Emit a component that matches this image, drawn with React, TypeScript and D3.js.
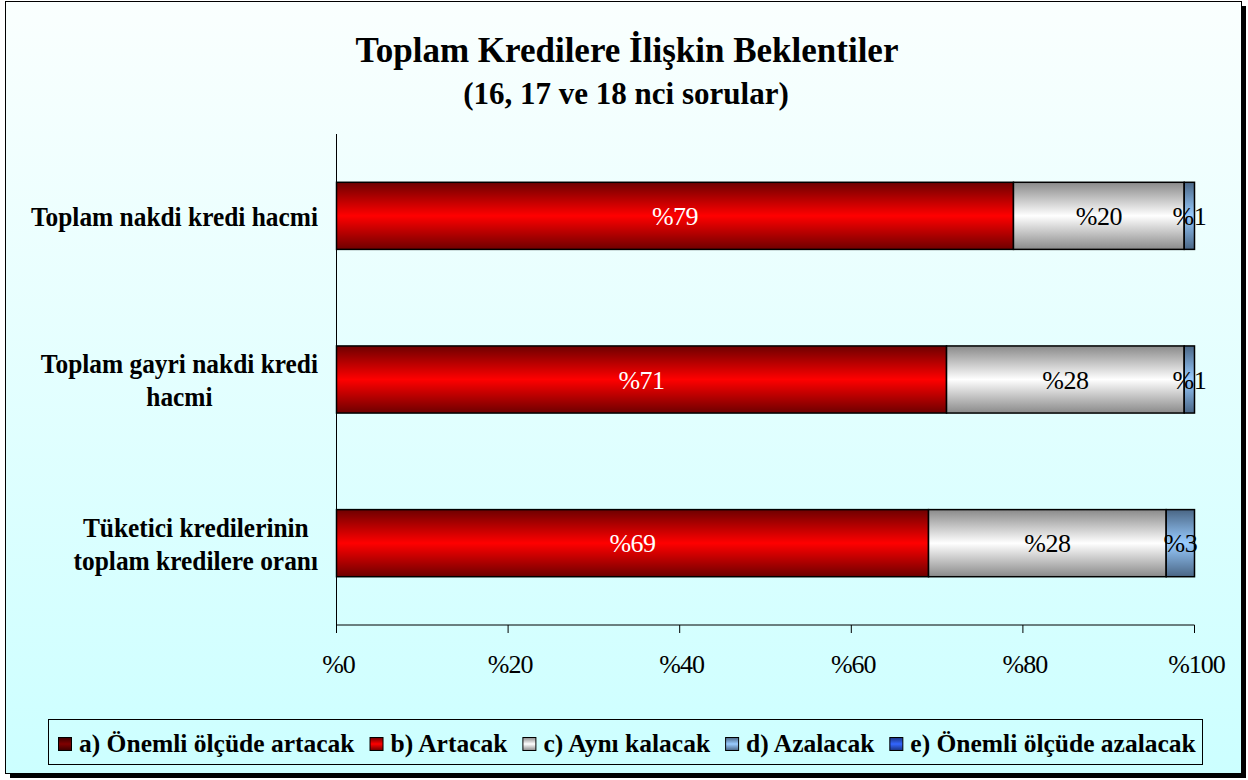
import React, { useEffect, useRef } from "react";
import * as d3 from "d3";

const titleLines = ["Toplam Kredilere İlişkin Beklentiler", "(16, 17 ve 18 nci sorular)"];
const categories = [
  "Toplam nakdi kredi hacmi",
  "Toplam gayri nakdi kredi hacmi",
  "Tüketici kredilerinin toplam kredilere oranı",
];
const categoryLines = [
  ["Toplam nakdi kredi hacmi"],
  ["Toplam gayri nakdi kredi", "hacmi"],
  ["Tüketici kredilerinin", "toplam kredilere oranı"],
];
const seriesNames = [
  "a) Önemli ölçüde artacak",
  "b) Artacak",
  "c) Aynı kalacak",
  "d) Azalacak",
  "e) Önemli ölçüde azalacak",
];
const seriesKeys = ["a", "b", "c", "d", "e"];
const valuesA = [0, 0, 0];
const valuesB = [78.9, 71.1, 69.0];
const valuesC = [19.9, 27.7, 27.7];
const valuesD = [1.2, 1.2, 3.3];
const valuesE = [0, 0, 0];
const xTickValues = [0, 20, 40, 60, 80, 100];

const W = 1248;
const H = 780;
const FONT = "'Liberation Serif', 'Times New Roman', serif";

// gradient colours: [edge, middle]
const seriesColors: [string, string][] = [
  ["#3d0000", "#800000"],
  ["#6e0000", "#ff0000"],
  ["#8a8a8a", "#ffffff"],
  ["#4a6685", "#99ccff"],
  ["#1a3380", "#3366ff"],
];
const labelColors = ["#ffffff", "#ffffff", "#000000", "#000000", "#ffffff"];

export default function App() {
  const ref = useRef<SVGSVGElement>(null);

  useEffect(() => {
    const svg = d3.select(ref.current as SVGSVGElement);
    svg.selectAll("*").remove();
    const defs = svg.append("defs");

    const bg = defs
      .append("linearGradient")
      .attr("id", "bg")
      .attr("x1", 0)
      .attr("y1", 0)
      .attr("x2", 0)
      .attr("y2", 1);
    bg.append("stop").attr("offset", "0%").attr("stop-color", "#fafffe");
    bg.append("stop").attr("offset", "100%").attr("stop-color", "#ccffff");

    seriesColors.forEach(([edge, mid], i) => {
      const g = defs
        .append("linearGradient")
        .attr("id", "sg" + i)
        .attr("x1", 0)
        .attr("y1", 0)
        .attr("x2", 0)
        .attr("y2", 1);
      g.append("stop").attr("offset", "0%").attr("stop-color", edge);
      g.append("stop").attr("offset", "50%").attr("stop-color", mid);
      g.append("stop").attr("offset", "100%").attr("stop-color", edge);
    });

    // frame + shadow
    svg.append("rect").attr("x", 10).attr("y", 6).attr("width", 1236).attr("height", 772).attr("fill", "#000");
    svg
      .append("rect")
      .attr("x", 5.5)
      .attr("y", 1.5)
      .attr("width", 1236)
      .attr("height", 772)
      .attr("fill", "url(#bg)")
      .attr("stroke", "#000")
      .attr("stroke-width", 1);

    // title
    svg
      .append("text")
      .attr("x", 627)
      .attr("y", 62)
      .attr("text-anchor", "middle")
      .attr("font-family", FONT)
      .attr("font-weight", "bold")
      .attr("font-size", 35)
      .text(titleLines[0]);
    svg
      .append("text")
      .attr("x", 626)
      .attr("y", 104)
      .attr("text-anchor", "middle")
      .attr("font-family", FONT)
      .attr("font-weight", "bold")
      .attr("font-size", 31)
      .text(titleLines[1]);

    // scales
    const x = d3.scaleLinear().domain([0, 100]).range([336.5, 1194.5]);
    const y = d3.scaleBand<string>().domain(categories).range([134, 625]).paddingInner(0.59).paddingOuter(0.295);

    const rows = categories.map((c, i) => ({
      cat: c,
      a: valuesA[i],
      b: valuesB[i],
      c: valuesC[i],
      d: valuesD[i],
      e: valuesE[i],
    }));
    const stacked = d3.stack<any>().keys(seriesKeys)(rows);

    // bars
    stacked.forEach((layer, si) => {
      layer.forEach((seg, ci) => {
        const v = seg[1] - seg[0];
        if (v <= 0) return;
        svg
          .append("rect")
          .attr("x", x(seg[0]))
          .attr("y", y(categories[ci]) as number)
          .attr("width", x(seg[1]) - x(seg[0]))
          .attr("height", y.bandwidth())
          .attr("fill", `url(#sg${si})`)
          .attr("stroke", "#000")
          .attr("stroke-width", 1.5);
      });
    });

    // bar labels
    stacked.forEach((layer, si) => {
      layer.forEach((seg, ci) => {
        const v = seg[1] - seg[0];
        if (v <= 0) return;
        const yc = (y(categories[ci]) as number) + y.bandwidth() / 2;
        svg
          .append("text")
          .attr("x", (x(seg[0]) + x(seg[1])) / 2)
          .attr("y", yc + 9)
          .attr("text-anchor", "middle")
          .attr("font-family", FONT)
          .attr("font-size", 26)
          .attr("letter-spacing", -0.5)
          .attr("fill", labelColors[si])
          .text("%" + Math.round(v));
      });
    });

    // axes
    svg
      .append("line")
      .attr("x1", x(0))
      .attr("x2", x(0))
      .attr("y1", 134)
      .attr("y2", 625)
      .attr("stroke", "#000")
      .attr("stroke-width", 1);
    svg
      .append("line")
      .attr("x1", x(0))
      .attr("x2", x(100))
      .attr("y1", 625)
      .attr("y2", 625)
      .attr("stroke", "#000")
      .attr("stroke-width", 1);
    xTickValues.forEach((t) => {
      svg
        .append("line")
        .attr("x1", x(t))
        .attr("x2", x(t))
        .attr("y1", 625)
        .attr("y2", 633)
        .attr("stroke", "#000")
        .attr("stroke-width", 1);
      svg
        .append("text")
        .attr("x", x(t) + 2)
        .attr("y", 673)
        .attr("text-anchor", "middle")
        .attr("font-family", FONT)
        .attr("font-size", 26)
        .attr("letter-spacing", -1)
        .text("%" + t);
    });

    // category labels
    const condense = 0.94;
    categoryLines.forEach((lines, ci) => {
      const yc = (y(categories[ci]) as number) + y.bandwidth() / 2;
      const n = lines.length;
      const els = lines.map((ln, li) =>
        svg
          .append("text")
          .attr("y", yc + 10 + (li - (n - 1) / 2) * 33)
          .attr("font-family", FONT)
          .attr("font-weight", "bold")
          .attr("font-size", 27)
          .text(ln)
      );
      const widths = els.map((e) => (e.node() as SVGTextElement).getComputedTextLength() * condense);
      const maxW = Math.max(...widths);
      const cx = 318 - maxW / 2;
      els.forEach((e, li) => {
        e.attr("x", cx - widths[li] / 2)
          .attr("textLength", widths[li])
          .attr("lengthAdjust", "spacingAndGlyphs");
      });
    });

    // legend
    svg
      .append("rect")
      .attr("x", 48.5)
      .attr("y", 719.5)
      .attr("width", 1154)
      .attr("height", 45)
      .attr("fill", "none")
      .attr("stroke", "#000")
      .attr("stroke-width", 1);
    let lx = 58;
    seriesNames.forEach((name, si) => {
      svg
        .append("rect")
        .attr("x", lx + 0.5)
        .attr("y", 737.5)
        .attr("width", 13)
        .attr("height", 13)
        .attr("fill", `url(#sg${si})`)
        .attr("stroke", "#000")
        .attr("stroke-width", 1);
      const t = svg
        .append("text")
        .attr("x", lx + 21)
        .attr("y", 752)
        .attr("font-family", FONT)
        .attr("font-weight", "bold")
        .attr("font-size", 25.5)
        .text(name);
      const w = (t.node() as SVGTextElement).getComputedTextLength();
      lx = lx + 21 + w + 15;
    });
  }, []);

  return (
    <svg
      ref={ref}
      width={W}
      height={H}
      style={{ position: "absolute", left: 0, top: 0, display: "block" }}
    />
  );
}
